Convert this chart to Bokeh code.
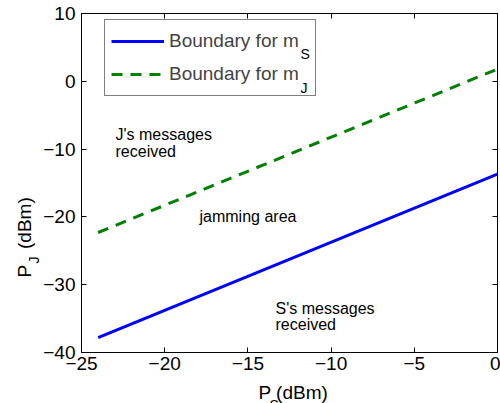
import math
from bokeh.plotting import figure
from bokeh.models import Range1d, LinearAxis, FixedTicker, Legend, LegendItem, Label
from bokeh.embed import file_html
from bokeh.resources import INLINE

# ---- data ----
ps_dbm = [-24, 0]
pj_boundary_ms = [-37.8, -13.7]
pj_boundary_mj = [-22.3, 1.8]
x_ticks = [-25, -20, -15, -10, -5, 0]
x_tick_labels = ["\u221225", "\u221220", "\u221215", "\u221210", "\u22125", "0"]
y_ticks = [-40, -30, -20, -10, 0, 10]
y_tick_labels = ["\u221240", "\u221230", "\u221220", "\u221210", "0", "10"]
series_labels = ["Boundary for m", "Boundary for m"]
series_subscripts = ["S", "J"]
region_texts = ["J's messages", "received", "jamming area", "S's messages", "received"]
x_label_main, x_label_sub = "P (dBm)", "S"
y_label_main, y_label_sub = "P\u00a0\u00a0\u00a0(dBm)", "J"

FONT = "Liberation Sans"
W, H = 500, 403
L, R, T, B = 81, 3, 13, 51
X0, X1, Y0, Y1 = -25, 0, -40, 10
FW, FH = W - L - R, H - T - B

def dx(px):
    return X0 + (px - L) / FW * (X1 - X0)

def dy(py):
    return Y1 - (py - T) / FH * (Y1 - Y0)

p = figure(width=W, height=H, x_range=Range1d(X0, X1), y_range=Range1d(Y0, Y1),
           output_backend="svg", toolbar_location=None,
           min_border_left=L, min_border_right=R, min_border_top=T, min_border_bottom=B)
p.xgrid.visible = False
p.ygrid.visible = False
p.background_fill_color = "white"
p.border_fill_color = "white"
p.outline_line_color = "black"
p.outline_line_width = 1

def style_axis(ax, ticks, labels, show_labels=True, standoff=5):
    ax.ticker = FixedTicker(ticks=ticks)
    ax.major_tick_in = 5
    ax.major_tick_out = 0
    ax.minor_tick_in = 0
    ax.minor_tick_out = 0
    ax.axis_line_color = "black"
    ax.major_tick_line_color = "black"
    if show_labels:
        ax.major_label_overrides = {t: l for t, l in zip(ticks, labels)}
        ax.major_label_text_font = FONT
        ax.major_label_text_font_size = "19px"
        ax.major_label_text_color = "black"
        ax.major_label_standoff = standoff
    else:
        ax.major_label_overrides = {t: "" for t in ticks}
        ax.major_label_text_font_size = "1px"
        ax.major_label_standoff = 0

style_axis(p.xaxis[0], x_ticks, x_tick_labels, True, 4)
style_axis(p.yaxis[0], y_ticks, y_tick_labels, True, 6)
top_ax = LinearAxis()
right_ax = LinearAxis()
style_axis(top_ax, x_ticks, x_tick_labels, False)
style_axis(right_ax, y_ticks, y_tick_labels, False)
p.add_layout(top_ax, "above")
p.add_layout(right_ax, "right")

r1 = p.line(ps_dbm, pj_boundary_ms, line_color="#0000ff", line_width=3)
r2 = p.line(ps_dbm, pj_boundary_mj, line_color="#008000", line_width=3, line_dash="11 8")

legend = Legend(items=[LegendItem(label=series_labels[0], renderers=[r1]),
                       LegendItem(label=series_labels[1], renderers=[r2])],
                location=(104 - L, (H - B) - 96))
legend.label_text_font = FONT
legend.label_text_font_size = "19px"
legend.label_text_baseline = "alphabetic"
legend.padding = 6
legend.spacing = 3
legend.glyph_height = 30
legend.glyph_width = 53
legend.label_standoff = 5
legend.label_width = 140
legend.label_height = 30
legend.border_line_color = "black"
legend.border_line_width = 1
legend.background_fill_alpha = 0
legend.margin = 0
p.add_layout(legend)

def add_text(txt, px, py, size, angle=0.0, place="center"):
    lab = Label(x=dx(px), y=dy(py), text=txt, text_font=FONT,
                text_font_size=f"{size}px", text_color="black",
                text_align="left", text_baseline="alphabetic", angle=angle)
    p.add_layout(lab, place)

# legend subscripts
add_text(series_subscripts[0], 300, 53, 14)
add_text(series_subscripts[1], 300, 87, 14)

# region annotations
add_text(region_texts[0], 115, 134, 16)
add_text(region_texts[1], 115, 151, 16)
add_text(region_texts[2], 199, 216, 16)
add_text(region_texts[3], 275, 308, 16)
add_text(region_texts[4], 275, 324, 16)

# x axis label P_S (dBm)  (side panels are not clipped to the frame)
add_text(x_label_main, 258, 392, 19, place="below")
add_text(x_label_sub, 269, 404, 14, place="left")

# y axis label P_J (dBm)
add_text(y_label_main, 24, 277, 19, math.pi / 2, place="left")
add_text(y_label_sub, 33, 263, 14, math.pi / 2, place="above")

open("out.html", "w").write(file_html(p, INLINE))
